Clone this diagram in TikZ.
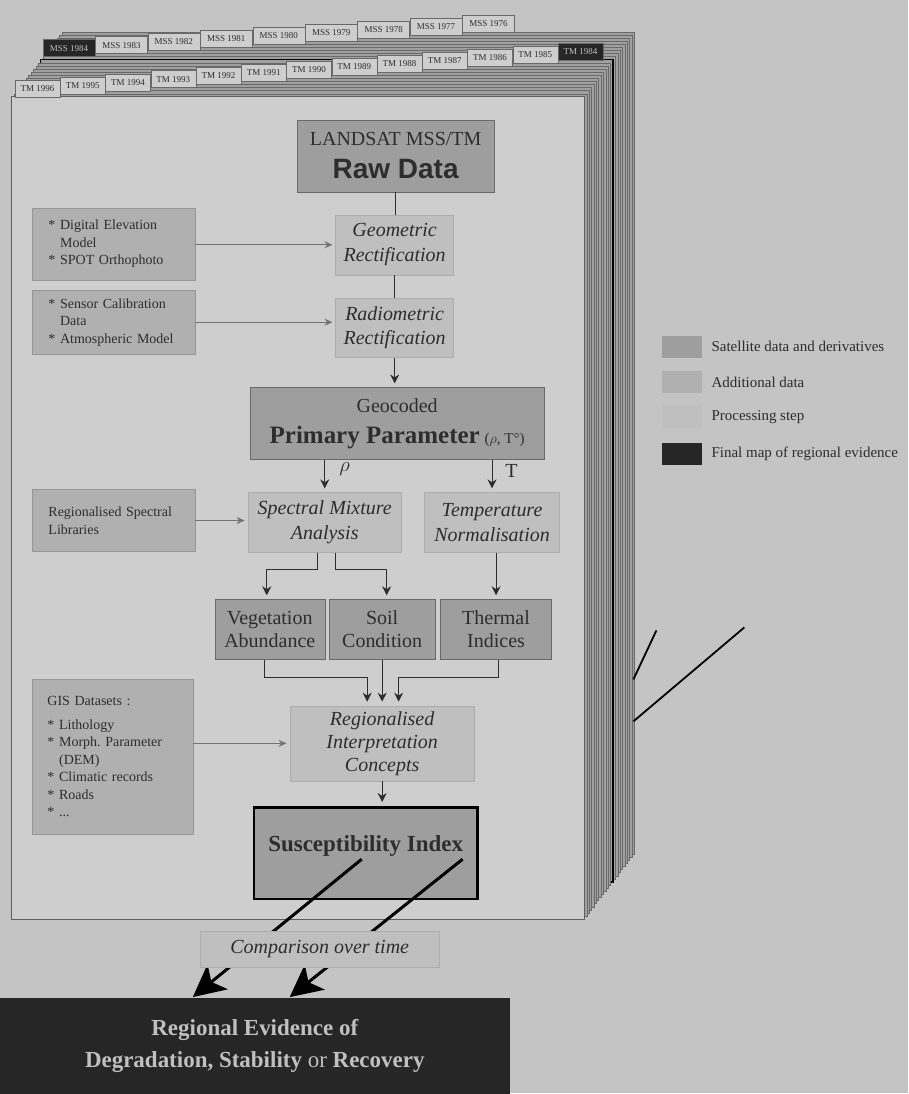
\documentclass[tikz,border=0pt]{standalone}
\usepackage{fontspec}
\setmainfont{Liberation Serif}
\newfontfamily\rawfont{Liberation Sans}
\usetikzlibrary{arrows.meta}

\definecolor{paperbg}{RGB}{196,196,196}
\definecolor{pagefill}{RGB}{206,206,206}
\definecolor{pageline}{RGB}{95,95,95}
\definecolor{stackfill}{RGB}{160,160,160}
\definecolor{stackline}{RGB}{105,105,105}
\definecolor{satgray}{RGB}{158,158,158}
\definecolor{addgray}{RGB}{176,176,176}
\definecolor{addline}{RGB}{150,150,150}
\definecolor{procgray}{RGB}{191,191,191}
\definecolor{procline}{RGB}{172,172,172}
\definecolor{finalgray}{RGB}{38,38,38}
\definecolor{inkgray}{RGB}{45,45,45}
\definecolor{feedgray}{RGB}{115,115,115}
\definecolor{lightink}{RGB}{192,192,192}

\begin{document}
\begin{tikzpicture}[x=1pt,y=-1pt,
	every node/.style={inner sep=0pt,align=center,text=inkgray},
	satbox/.style={shape=rectangle,fill=satgray,draw=stackline},
	addbox/.style={shape=rectangle,fill=addgray,draw=addline,text width=130pt,align=left,font=\fontsize{14}{17.5}\selectfont},
	procbox/.style={shape=rectangle,fill=procgray,draw=procline,font=\fontsize{20}{25}\selectfont\itshape},
	tab/.style={shape=rectangle,fill=pagefill,draw=stackline,minimum height=17pt,font=\fontsize{9}{9}\selectfont},
	darktab/.style={tab,fill=finalgray,text=lightink},
	link/.style={draw=inkgray,line width=1pt},
	flow/.style={->,draw=inkgray,line width=1pt,shorten >=4pt},
	feed/.style={-{Stealth[length=8pt,width=7pt]},draw=feedgray,line width=0.8pt,shorten >=3pt},
	bigarrow/.style={-{Stealth[length=32pt,width=32pt,inset=8pt]},draw=black,line width=3pt},
	stray/.style={draw=black,line width=1.8pt},
	>={Stealth[length=9pt,width=9pt]}]

	\fill[paperbg] (0,0) rectangle (909,1094);

	% stack of scenes, back to front
	\foreach \k in {21,20,...,1}{
		\pgfmathsetmacro{\dx}{2.38*\k}
		\pgfmathsetmacro{\dy}{3.1*\k}
		\ifnum\k=12
			\filldraw[fill=stackfill,draw=black,line width=1.5pt] (12+\dx,97-\dy) rectangle (585+\dx,920-\dy);
		\else
			\filldraw[fill=stackfill,draw=stackline,line width=0.5pt] (12+\dx,97-\dy) rectangle (585+\dx,920-\dy);
		\fi
		\def\tabsty{tab}
		\ifnum\k=12 \def\tabsty{darktab}\fi
		\ifnum\k=13 \def\tabsty{darktab}\fi
		\ifnum\k>12
			\pgfmathsetmacro{\tx}{69+52.5*(\k-13)}
			\pgfmathtruncatemacro{\yr}{1997-\k}
			\node[\tabsty,minimum width=52pt] (tab\k) at (\tx,88.5-\dy) {MSS \yr};
		\else
			\pgfmathsetmacro{\tx}{37.5+45.3*\k}
			\pgfmathtruncatemacro{\yr}{1996-\k}
			\node[\tabsty,minimum width=45pt] (tab\k) at (\tx,88.5-\dy) {TM \yr};
		\fi
	}
	\filldraw[fill=pagefill,draw=pageline,line width=1pt] (12,97) rectangle (585,920);
	\node[tab,minimum width=45pt] (tab0) at (37.5,88.5) {TM 1996};

	% satellite chain
	\node[satbox,font=\fontsize{20}{33}\selectfont,minimum width=198pt,minimum height=72pt] (raw) at (396,156) {LANDSAT MSS/TM\\{\rawfont\bfseries\fontsize{28}{33}\selectfont Raw Data}};
	\node[procbox,minimum width=118pt,minimum height=60pt] (geo) at (395,245) {Geometric\\Rectification};
	\node[procbox,minimum width=118pt,minimum height=60pt] (rad) at (395,328) {Radiometric\\Rectification};
	\node[satbox,font=\fontsize{20}{31}\selectfont,minimum width=295pt,minimum height=72pt] (prim) at (397.5,424) {Geocoded\\{\bfseries\fontsize{25}{31}\selectfont Primary Parameter} {\fontsize{15}{15}\selectfont($\rho$, T°)}};
	\node[procbox,minimum width=154pt,minimum height=60pt] (spec) at (325,523) {Spectral Mixture\\Analysis};
	\node[procbox,minimum width=135pt,minimum height=60pt] (temp) at (492.5,523) {Temperature\\Normalisation};
	\node[satbox,font=\fontsize{20}{23}\selectfont,minimum width=110pt,minimum height=60pt] (veg) at (270,630) {Vegetation\\Abundance};
	\node[satbox,font=\fontsize{20}{23}\selectfont,minimum width=107pt,minimum height=60pt] (soil) at (382.5,630) {Soil\\Condition};
	\node[satbox,font=\fontsize{20}{23}\selectfont,minimum width=111pt,minimum height=60pt] (therm) at (496.5,630) {Thermal\\Indices};
	\node[procbox,font=\fontsize{20}{23}\selectfont\itshape,minimum width=185pt,minimum height=75pt] (reg) at (382.5,744) {Regionalised\\Interpretation\\Concepts};
	\node[satbox,draw=black,line width=2.5pt,minimum width=224pt,minimum height=92pt,text depth=20pt,font=\bfseries\fontsize{23}{26}\selectfont] (susc) at (366,854) {Susceptibility Index};

	% additional data
	\node[addbox,minimum width=163pt,minimum height=72pt] (dem) at (113.5,244) {* Digital Elevation\\\hphantom{* }Model\\{}* SPOT Orthophoto};
	\node[addbox,minimum width=163pt,minimum height=65pt] (cal) at (113.5,322.5) {* Sensor Calibration\\\hphantom{* }Data\\{}* Atmospheric Model};
	\node[addbox,minimum width=163pt,minimum height=62pt] (lib) at (113.5,521) {Regionalised Spectral\\Libraries};
	\node[addbox,minimum width=161pt,minimum height=155pt] (gis) at (112.5,757.5) {GIS Datasets :\\[6pt]{}* Lithology\\{}* Morph.\ Parameter\\\hphantom{* }(DEM)\\{}* Climatic records\\{}* Roads\\{}* ...};

	\node[font=\fontsize{20}{20}\selectfont] (rholabel) at (345,469) {$\rho$};
	\node[font=\fontsize{20}{20}\selectfont] (tlabel) at (512,471) {T};

	\draw[link] (raw.south) -- (raw.south |- geo.north);
	\draw[link] (geo.south) -- (rad.north);
	\draw[flow] (rad.south) -- (prim.north -| rad.south);
	\draw[flow] (prim.south -| spec.north) -- (spec.north);
	\draw[flow] (prim.south -| temp.north) -- (temp.north);
	\draw[flow] ([xshift=-7pt]spec.south) -- ++(0,17) -| ([xshift=-3pt]veg.north);
	\draw[flow] ([xshift=11pt]spec.south) -- ++(0,17) -| ([xshift=4.5pt]soil.north);
	\draw[flow] (therm.north |- temp.south) -- (therm.north);
	\draw[flow] ([xshift=-5pt]veg.south) -- ++(0,18) -| ([xshift=-15pt]reg.north);
	\draw[flow] (soil.south) -- (soil.south |- reg.north);
	\draw[flow] ([xshift=2.5pt]therm.south) -- ++(0,18) -| ([xshift=16.5pt]reg.north);
	\draw[flow] (reg.south) -- (reg.south |- susc.north);

	\draw[feed] (dem.east |- geo.west) -- (geo.west);
	\draw[feed] (cal.east) -- (cal.east -| rad.west);
	\draw[feed] (lib.east) -- (lib.east -| spec.west);
	\draw[feed] (gis.east |- reg.west) -- (reg.west);

	% comparison over time
	\coordinate (fromL) at (362,860);
	\coordinate (toL) at (193,998);
	\coordinate (fromR) at (463,860);
	\coordinate (toR) at (290,998);
	\draw[bigarrow] (fromL) -- (toL);
	\draw[bigarrow] (fromR) -- (toR);
	\node[procbox,minimum width=240pt,minimum height=36pt] (comp) at (320,950) {Comparison over time};
	\node[shape=rectangle,fill=finalgray,minimum width=510pt,minimum height=96pt,text=lightink,font=\bfseries\fontsize{23}{32}\selectfont] (final) at (255,1047) {Regional Evidence of\\Degradation, Stability {\mdseries or} Recovery};

	\coordinate (edgeA) at (634,680);
	\coordinate (endA) at (657,631);
	\coordinate (edgeB) at (634,722);
	\coordinate (endB) at (745,628);
	\draw[stray] (edgeA) -- (endA);
	\draw[stray] (edgeB) -- (endB);

	% legend
	\node[satbox,draw=none,minimum width=40pt,minimum height=22pt] (keysat) at (683,347) {};
	\node[anchor=west,font=\fontsize{15}{16}\selectfont] (keysattext) at (712,347) {Satellite data and derivatives};
	\node[shape=rectangle,fill=addgray,minimum width=40pt,minimum height=22pt] (keyadd) at (683,382.5) {};
	\node[anchor=west,font=\fontsize{15}{16}\selectfont] (keyaddtext) at (712,382.5) {Additional data};
	\node[shape=rectangle,fill=procgray,minimum width=40pt,minimum height=22pt] (keyproc) at (683,417.5) {};
	\node[anchor=west,font=\fontsize{15}{16}\selectfont] (keyproctext) at (712,417.5) {Processing step};
	\node[shape=rectangle,fill=finalgray,minimum width=40pt,minimum height=22pt] (keyfinal) at (683,454) {};
	\node[anchor=west,font=\fontsize{15}{16}\selectfont] (keyfinaltext) at (712,454) {Final map of regional evidence};
\end{tikzpicture}
\end{document}
